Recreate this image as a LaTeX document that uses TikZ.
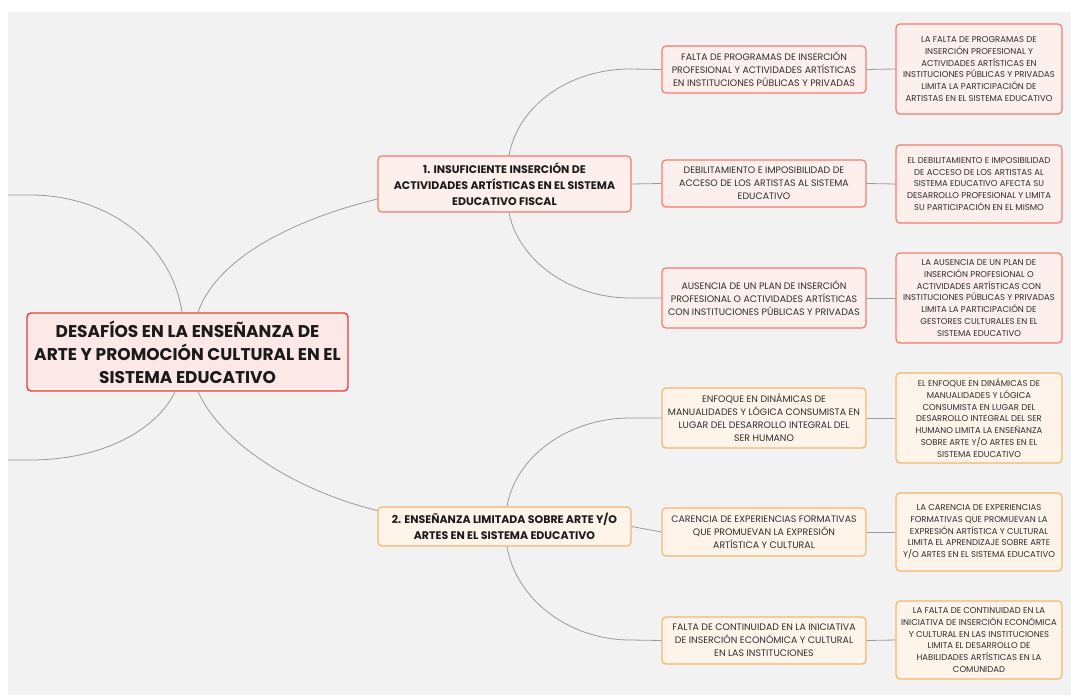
\documentclass[tikz,border=0pt]{standalone}
\usepackage{fontspec}
\setmainfont{Poppins}
\usetikzlibrary{calc}
\definecolor{bggray}{HTML}{F2F2F2}
\definecolor{rootline}{HTML}{E2403A}
\definecolor{rootfill}{HTML}{FDE8E8}
\definecolor{redline}{HTML}{F47A6B}
\definecolor{redfill}{HTML}{FDF0EC}
\definecolor{orline}{HTML}{F9B46B}
\definecolor{orfill}{HTML}{FEF4EA}
\definecolor{conn}{HTML}{9A9A9A}
\definecolor{txt}{HTML}{2E2E2E}
\definecolor{btxt}{HTML}{1A1A1A}
\tikzset{
  box/.style={rounded corners=4pt, line width=1.2pt, align=center, inner sep=0pt},
  rootbox/.style={box, draw=rootline, fill=rootfill, line width=1.4pt, text=btxt,
    font=\fontsize{17}{23}\selectfont\bfseries, minimum width=321pt, minimum height=78pt},
  brbox/.style={box, text=btxt, font=\fontsize{11}{15.7}\selectfont\bfseries, minimum width=253pt},
  chbox/.style={box, text=txt, font=\fontsize{9.4}{13}\selectfont, minimum width=204pt},
  lfbox/.style={box, text=txt, font=\fontsize{8.5}{11.7}\selectfont, minimum width=166pt},
  redb/.style={draw=redline, fill=redfill},
  orb/.style={draw=orline, fill=orfill},
  link/.style={draw=conn, line width=0.8pt}
}
\begin{document}
\begin{tikzpicture}[x=1pt,y=-1pt]
\useasboundingbox (0,0) rectangle (1071,695);
\fill[white] (0,0) rectangle (1071,695);
\fill[bggray] (8,12) rectangle (1071,695);

% root
\node[rootbox] (root) at (187.5,352) {DESAFÍOS EN LA ENSEÑANZA DE\\ARTE Y PROMOCIÓN CULTURAL EN EL\\SISTEMA EDUCATIVO};

% branch 1
\node[brbox, redb, minimum height=56pt] (b1) at (504.5,184) {1. INSUFICIENTE INSERCIÓN DE\\ACTIVIDADES ARTÍSTICAS EN EL SISTEMA\\EDUCATIVO FISCAL};
\node[chbox, redb, minimum height=47pt] (c1) at (764,69.5) {FALTA DE PROGRAMAS DE INSERCIÓN\\PROFESIONAL Y ACTIVIDADES ARTÍSTICAS\\EN INSTITUCIONES PÚBLICAS Y PRIVADAS};
\node[chbox, redb, minimum height=47pt] (c2) at (764,183.5) {DEBILITAMIENTO E IMPOSIBILIDAD DE\\ACCESO DE LOS ARTISTAS AL SISTEMA\\EDUCATIVO};
\node[chbox, redb, minimum height=60pt] (c3) at (764,298) {AUSENCIA DE UN PLAN DE INSERCIÓN\\PROFESIONAL O ACTIVIDADES ARTÍSTICAS\\CON INSTITUCIONES PÚBLICAS Y PRIVADAS};
\node[lfbox, redb, minimum height=90pt] (r1) at (979,69) {LA FALTA DE PROGRAMAS DE\\INSERCIÓN PROFESIONAL Y\\ACTIVIDADES ARTÍSTICAS EN\\INSTITUCIONES PÚBLICAS Y PRIVADAS\\LIMITA LA PARTICIPACIÓN DE\\ARTISTAS EN EL SISTEMA EDUCATIVO};
\node[lfbox, redb, minimum height=78pt] (r2) at (979,184) {EL DEBILITAMIENTO E IMPOSIBILIDAD\\DE ACCESO DE LOS ARTISTAS AL\\SISTEMA EDUCATIVO AFECTA SU\\DESARROLLO PROFESIONAL Y LIMITA\\SU PARTICIPACIÓN EN EL MISMO};
\node[lfbox, redb, minimum height=90pt] (r3) at (979,298) {LA AUSENCIA DE UN PLAN DE\\INSERCIÓN PROFESIONAL O\\ACTIVIDADES ARTÍSTICAS CON\\INSTITUCIONES PÚBLICAS Y PRIVADAS\\LIMITA LA PARTICIPACIÓN DE\\GESTORES CULTURALES EN EL\\SISTEMA EDUCATIVO};

% branch 2
\node[brbox, orb, minimum height=39pt] (b2) at (504.5,526.5) {2. ENSEÑANZA LIMITADA SOBRE ARTE Y/O\\ARTES EN EL SISTEMA EDUCATIVO};
\node[chbox, orb, minimum height=60pt] (c4) at (764,418) {ENFOQUE EN DINÁMICAS DE\\MANUALIDADES Y LÓGICA CONSUMISTA EN\\LUGAR DEL DESARROLLO INTEGRAL DEL\\SER HUMANO};
\node[chbox, orb, minimum height=48pt] (c5) at (764,532) {CARENCIA DE EXPERIENCIAS FORMATIVAS\\QUE PROMUEVAN LA EXPRESIÓN\\ARTÍSTICA Y CULTURAL};
\node[chbox, orb, minimum height=47pt] (c6) at (764,640.5) {FALTA DE CONTINUIDAD EN LA INICIATIVA\\DE INSERCIÓN ECONÓMICA Y CULTURAL\\EN LAS INSTITUCIONES};
\node[lfbox, orb, minimum height=90pt] (r4) at (979,418) {EL ENFOQUE EN DINÁMICAS DE\\MANUALIDADES Y LÓGICA\\CONSUMISTA EN LUGAR DEL\\DESARROLLO INTEGRAL DEL SER\\HUMANO LIMITA LA ENSEÑANZA\\SOBRE ARTE Y/O ARTES EN EL\\SISTEMA EDUCATIVO};
\node[lfbox, orb, minimum height=78pt] (r5) at (979,532) {LA CARENCIA DE EXPERIENCIAS\\FORMATIVAS QUE PROMUEVAN LA\\EXPRESIÓN ARTÍSTICA Y CULTURAL\\LIMITA EL APRENDIZAJE SOBRE ARTE\\Y/O ARTES EN EL SISTEMA EDUCATIVO};
\node[lfbox, orb, minimum height=78pt] (r6) at (979,640) {LA FALTA DE CONTINUIDAD EN LA\\INICIATIVA DE INSERCIÓN ECONÓMICA\\Y CULTURAL EN LAS INSTITUCIONES\\LIMITA EL DESARROLLO DE\\HABILIDADES ARTÍSTICAS EN LA\\COMUNIDAD};

% free ends of cut-off branches
\coordinate (lt) at (8,195);
\coordinate (lb) at (8,460);

% root connectors
\draw[link] ([xshift=-5.5pt]root.north) .. controls (172,245) and (110,195) .. (30,195) -- (lt);
\draw[link] ([xshift=-12.5pt]root.south) .. controls (158,428) and (105,460) .. (30,460) -- (lb);
\draw[link] ([xshift=10.5pt]root.north) .. controls (218,255) and (300,218) .. ([yshift=-15pt]b1.west);
\draw[link] ([xshift=10.5pt]root.south) .. controls (222,445) and (300,492) .. ([yshift=16pt]b2.west);

% branch 1 connectors
\draw[link] ([xshift=4.5pt]b1.north) .. controls (518,105) and (570,69) .. (630,69) -- (c1.west);
\draw[link] (b1.east) -- (c2.west);
\draw[link] ([xshift=4.5pt]b1.south) .. controls (518,260) and (570,298) .. (630,298) -- (c3.west);
\draw[link] (c1.east) -- (r1.west);
\draw[link] (c2.east) -- (r2.west);
\draw[link] (c3.east) -- (r3.west);

% branch 2 connectors
\draw[link] ([xshift=2.5pt]b2.north) .. controls (516,455) and (570,418) .. (630,418) -- (c4.west);
\draw[link] (b2.east) -- (c5.west);
\draw[link] ([xshift=2.5pt]b2.south) .. controls (516,600) and (570,640) .. (630,640) -- (c6.west);
\draw[link] (c4.east) -- (r4.west);
\draw[link] (c5.east) -- (r5.west);
\draw[link] (c6.east) -- (r6.west);
\end{tikzpicture}
\end{document}
